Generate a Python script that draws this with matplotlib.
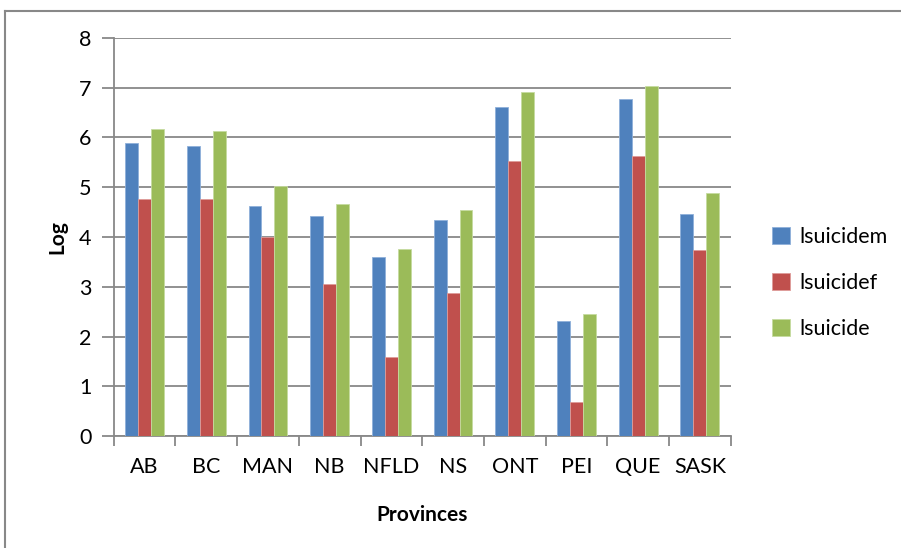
import matplotlib
matplotlib.use("Agg")
import matplotlib.pyplot as plt
import numpy as np
from matplotlib.lines import Line2D

# data
provinces = ["AB", "BC", "MAN", "NB", "NFLD", "NS", "ONT", "PEI", "QUE", "SASK"]
lsuicidem = [5.89, 5.82, 4.62, 4.43, 3.59, 4.35, 6.61, 2.31, 6.76, 4.46]
lsuicidef = [4.76, 4.76, 4.01, 3.06, 1.59, 2.88, 5.52, 0.69, 5.63, 3.74]
lsuicide = [6.16, 6.12, 5.03, 4.66, 3.75, 4.54, 6.92, 2.46, 7.03, 4.88]
series_names = ["lsuicidem", "lsuicidef", "lsuicide"]

plt.rcParams['font.family'] = ['Lato', 'DejaVu Sans']

fig = plt.figure(figsize=(9.01, 5.48), dpi=100)
ax = fig.add_axes([113.7/901, 1-436.3/548, (730.7-113.7)/901, (436.3-37.7)/548])

colors = ["#4F81BD", "#C0504D", "#9BBB59"]
edges = ["#8FB0DA", "#DE9C9A", "#C6DBA0"]
x = np.arange(len(provinces))
w = 0.21
for i, (vals, name) in enumerate(zip([lsuicidem, lsuicidef, lsuicide], series_names)):
    ax.bar(x + (i - 1) * w, vals, w, color=colors[i], edgecolor=edges[i],
           linewidth=0.6, label=name, zorder=3)

ax.set_xlim(-0.5, len(provinces) - 0.5)
ax.set_ylim(0, 8)
ax.set_yticks(range(0, 9))
ax.yaxis.grid(True, color="#888888", linewidth=1.3, zorder=0)
ax.set_axisbelow(True)

ax.set_xticks(x)
ax.set_xticklabels(provinces, fontsize=15.5)
ax.set_xticks(np.arange(-0.5, len(provinces)), minor=True)
ax.tick_params(axis='x', which='major', length=0, pad=15)
ax.tick_params(axis='x', which='minor', length=7, width=1.3, color="#888888")
ax.tick_params(axis='y', length=9, width=1.3, color="#888888", labelsize=15.5, pad=7)

for s in ["top", "right"]:
    ax.spines[s].set_visible(False)
for s in ["left", "bottom"]:
    ax.spines[s].set_color("#888888")
    ax.spines[s].set_linewidth(1.3)

ax.set_xlabel("Provinces", fontsize=15, fontweight="bold", labelpad=20)
ax.set_ylabel("Log", fontsize=15, fontweight="bold", labelpad=8)

ax.legend(loc="center left", bbox_to_anchor=(1.035, 0.385), frameon=False,
          fontsize=15.5, handlelength=0.85, handleheight=0.85, labelspacing=1.2,
          handletextpad=0.45)

# outer chart border (cropped on right/bottom)
x0 = 4.5 / 901
y1 = 1 - 11 / 548
fig.add_artist(Line2D([x0, x0], [0, y1], color="#888888", linewidth=1.5))
fig.add_artist(Line2D([x0, 1], [y1, y1], color="#888888", linewidth=1.5))

fig.savefig("out.png", dpi=100)
